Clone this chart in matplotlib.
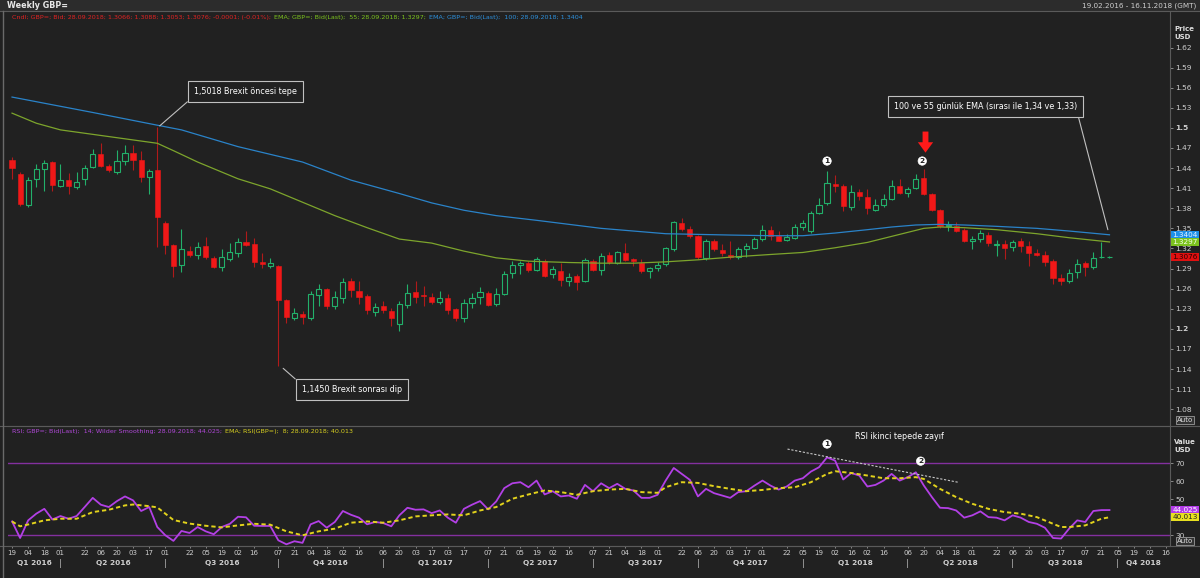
# weekly_gbp_rsi_chart.py
# Weekly GBP= candles with 55/100 EMA and RSI(14) panel

import numpy as np
import pandas as pd
import matplotlib
matplotlib.use("Agg")
import matplotlib.pyplot as plt
from matplotlib.lines import Line2D
from matplotlib.patches import Rectangle
from matplotlib.transforms import blended_transform_factory


# =============================================================================
# Data
# =============================================================================

START_DATE = "2016-02-19"

opens = [
    1.4516, 1.4316, 1.3856, 1.4241, 1.4391, 1.4491, 1.4131, 1.4226, 1.4116, 1.4231,
    1.4416, 1.4616, 1.4426, 1.4341, 1.4506, 1.4631, 1.4516, 1.4266, 1.4366, 1.3576,
    1.3251, 1.2951, 1.3166, 1.3106, 1.3231, 1.3051, 1.2916, 1.3041, 1.3126, 1.3301,
    1.3266, 1.3001, 1.2941, 1.2941, 1.2426, 1.2166, 1.2221, 1.2166, 1.2506, 1.2591,
    1.2341, 1.2466, 1.2716, 1.2566, 1.2491, 1.2256, 1.2341, 1.2266, 1.2066, 1.2356,
    1.2551, 1.2501, 1.2481, 1.2401, 1.2466, 1.2291, 1.2156, 1.2391, 1.2476, 1.2541,
    1.2366, 1.2516, 1.2826, 1.2951, 1.2976, 1.2876, 1.3006, 1.2816, 1.2856, 1.2716,
    1.2791, 1.2716, 1.3006, 1.2881, 1.3106, 1.2981, 1.3131, 1.3036, 1.2981, 1.2866,
    1.2906, 1.2966, 1.3191, 1.3576, 1.3491, 1.3391, 1.3056, 1.3306, 1.3181, 1.3106,
    1.3076, 1.3191, 1.3206, 1.3341, 1.3476, 1.3381, 1.3326, 1.3356, 1.3516, 1.3466,
    1.3726, 1.3876, 1.4156, 1.4126, 1.3816, 1.4041, 1.3966, 1.3781, 1.3856, 1.3941,
    1.4126, 1.4026, 1.4106, 1.4256, 1.4016, 1.3781, 1.3531, 1.3531, 1.3476, 1.3316,
    1.3341, 1.3406, 1.3246, 1.3266, 1.3216, 1.3316, 1.3241, 1.3131, 1.3106, 1.3006,
    1.2756, 1.2716, 1.2841, 1.2976, 1.2926, 1.3066, 1.3066,
]
highs = [
    1.4566, 1.4341, 1.4266, 1.4466, 1.4516, 1.4506, 1.4466, 1.4331, 1.4341, 1.4451,
    1.4681, 1.4776, 1.4466, 1.4676, 1.4741, 1.4741, 1.4656, 1.4391, 1.5018, 1.3616,
    1.3266, 1.3491, 1.3241, 1.3291, 1.3376, 1.3091, 1.3191, 1.3281, 1.3356, 1.3456,
    1.3356, 1.3126, 1.3051, 1.2960, 1.2440, 1.2316, 1.2266, 1.2566, 1.2666, 1.2616,
    1.2566, 1.2766, 1.2766, 1.2716, 1.2516, 1.2391, 1.2416, 1.2316, 1.2416, 1.2666,
    1.2716, 1.2641, 1.2541, 1.2566, 1.2516, 1.2316, 1.2441, 1.2541, 1.2626, 1.2566,
    1.2616, 1.2856, 1.3016, 1.3016, 1.3016, 1.3076, 1.3041, 1.2941, 1.2976, 1.2826,
    1.2816, 1.3056, 1.3041, 1.3126, 1.3141, 1.3166, 1.3276, 1.3056, 1.3041, 1.2926,
    1.2991, 1.3226, 1.3616, 1.3651, 1.3541, 1.3401, 1.3341, 1.3341, 1.3266, 1.3316,
    1.3216, 1.3276, 1.3376, 1.3556, 1.3541, 1.3466, 1.3416, 1.3566, 1.3626, 1.3766,
    1.3956, 1.4356, 1.4291, 1.4166, 1.4151, 1.4091, 1.4091, 1.3941, 1.4016, 1.4226,
    1.4241, 1.4116, 1.4306, 1.4390, 1.4026, 1.3791, 1.3606, 1.3591, 1.3501, 1.3391,
    1.3476, 1.3441, 1.3326, 1.3326, 1.3326, 1.3356, 1.3306, 1.3191, 1.3166, 1.3041,
    1.2816, 1.2891, 1.3041, 1.3016, 1.3141, 1.3301, 1.3088,
]
lows = [
    1.4241, 1.3841, 1.3826, 1.4116, 1.4056, 1.4056, 1.4116, 1.4016, 1.4091, 1.4141,
    1.4406, 1.4416, 1.4341, 1.4316, 1.4441, 1.4376, 1.4191, 1.4016, 1.3229, 1.3116,
    1.2776, 1.2841, 1.3066, 1.3041, 1.3041, 1.2906, 1.2866, 1.3016, 1.3066, 1.3241,
    1.2916, 1.2906, 1.2906, 1.1450, 1.2091, 1.2126, 1.2076, 1.2126, 1.2341, 1.2291,
    1.2291, 1.2391, 1.2476, 1.2366, 1.2226, 1.2191, 1.2241, 1.2041, 1.1966, 1.2316,
    1.2391, 1.2341, 1.2366, 1.2366, 1.2216, 1.2116, 1.2106, 1.2316, 1.2376, 1.2346,
    1.2341, 1.2506, 1.2766, 1.2816, 1.2841, 1.2856, 1.2776, 1.2766, 1.2641, 1.2641,
    1.2576, 1.2706, 1.2856, 1.2806, 1.2966, 1.2966, 1.3016, 1.2941, 1.2826, 1.2766,
    1.2866, 1.2941, 1.3156, 1.3466, 1.3356, 1.3041, 1.3026, 1.3166, 1.3091, 1.3041,
    1.3041, 1.3066, 1.3191, 1.3316, 1.3326, 1.3306, 1.3306, 1.3341, 1.3476, 1.3426,
    1.3716, 1.3856, 1.4041, 1.3756, 1.3776, 1.3916, 1.3716, 1.3756, 1.3826, 1.3916,
    1.4006, 1.3966, 1.4091, 1.3996, 1.3756, 1.3506, 1.3456, 1.3441, 1.3291, 1.3191,
    1.3291, 1.3241, 1.3091, 1.3041, 1.3166, 1.3141, 1.2941, 1.3091, 1.2941, 1.2666,
    1.2661, 1.2691, 1.2766, 1.2791, 1.2891, 1.3060, 1.3053,
]
closes = [
    1.4406, 1.3866, 1.4226, 1.4391, 1.4481, 1.4141, 1.4226, 1.4126, 1.4191, 1.4406,
    1.4616, 1.4431, 1.4366, 1.4506, 1.4631, 1.4526, 1.4266, 1.4356, 1.3676, 1.3256,
    1.2941, 1.3191, 1.3106, 1.3226, 1.3066, 1.2916, 1.3076, 1.3141, 1.3291, 1.3256,
    1.2991, 1.2966, 1.2981, 1.2426, 1.2176, 1.2241, 1.2181, 1.2526, 1.2591, 1.2341,
    1.2476, 1.2706, 1.2576, 1.2476, 1.2276, 1.2331, 1.2276, 1.2166, 1.2366, 1.2541,
    1.2481, 1.2486, 1.2406, 1.2466, 1.2281, 1.2156, 1.2391, 1.2466, 1.2551, 1.2356,
    1.2516, 1.2816, 1.2956, 1.2976, 1.2881, 1.3041, 1.2791, 1.2891, 1.2726, 1.2776,
    1.2706, 1.3026, 1.2876, 1.3091, 1.2991, 1.3141, 1.3026, 1.3006, 1.2856, 1.2901,
    1.2956, 1.3201, 1.3601, 1.3491, 1.3391, 1.3066, 1.3306, 1.3191, 1.3126, 1.3066,
    1.3191, 1.3241, 1.3341, 1.3476, 1.3391, 1.3316, 1.3366, 1.3526, 1.3576, 1.3726,
    1.3856, 1.4176, 1.4126, 1.3841, 1.4041, 1.3976, 1.3806, 1.3856, 1.3941, 1.4126,
    1.4026, 1.4091, 1.4241, 1.4006, 1.3776, 1.3541, 1.3551, 1.3466, 1.3306, 1.3341,
    1.3426, 1.3276, 1.3266, 1.3206, 1.3291, 1.3241, 1.3126, 1.3106, 1.2991, 1.2766,
    1.2716, 1.2826, 1.2966, 1.2926, 1.3056, 1.3076, 1.3076,
]

# EMA lines, read at sample weeks (week index, value)
ema55_weeks = [0, 3, 6, 12, 18, 20, 23, 28, 32, 36, 40, 44, 48, 52, 56, 60, 64, 69,
               73, 77, 81, 85, 89, 94, 98, 102, 106, 110, 113, 115, 118, 122, 127, 131, 136]
ema55_values = [1.522, 1.507, 1.497, 1.487, 1.477, 1.466, 1.449, 1.424, 1.409, 1.389,
                1.369, 1.351, 1.334, 1.328, 1.316, 1.306, 1.301, 1.299, 1.298, 1.298,
                1.300, 1.303, 1.307, 1.311, 1.314, 1.321, 1.329, 1.341, 1.350, 1.352,
                1.351, 1.348, 1.342, 1.336, 1.3297]

ema100_weeks = [0, 10, 18, 21, 28, 36, 42, 48, 52, 56, 60, 65, 69, 73, 77, 81, 85,
                89, 94, 98, 102, 106, 109, 112, 115, 118, 122, 127, 131, 136]
ema100_values = [1.546, 1.523, 1.504, 1.497, 1.472, 1.449, 1.422, 1.402, 1.388, 1.377,
                 1.369, 1.362, 1.356, 1.350, 1.346, 1.342, 1.341, 1.340, 1.339, 1.339,
                 1.343, 1.348, 1.352, 1.355, 1.356, 1.355, 1.353, 1.350, 1.346, 1.3404]

rsi_values = [
    37.7, 28.5, 38.3, 42.0, 44.7, 38.8, 40.7, 39.2, 40.7, 45.7,
    50.8, 47.0, 45.7, 49.0, 51.6, 49.4, 43.5, 45.7, 34.6, 30.0,
    26.9, 32.4, 31.3, 34.6, 32.2, 30.6, 34.6, 36.4, 40.3, 40.0,
    35.3, 35.2, 35.2, 27.2, 25.0, 26.7, 25.8, 36.1, 37.9, 34.2,
    37.4, 43.5, 41.4, 39.8, 36.1, 37.4, 36.8, 35.0, 41.1, 45.3,
    44.2, 44.4, 42.3, 43.8, 39.8, 37.0, 44.7, 47.0, 49.0, 44.4,
    48.8, 56.2, 58.9, 59.5, 56.7, 60.4, 52.7, 54.5, 51.6, 52.1,
    50.3, 58.0, 54.5, 58.9, 56.2, 58.6, 55.8, 54.9, 50.8, 50.8,
    52.5, 60.4, 67.4, 64.1, 60.8, 51.6, 55.8, 53.4, 52.1, 50.8,
    54.0, 54.5, 57.6, 60.4, 57.6, 55.4, 57.1, 60.4, 61.7, 65.4,
    67.8, 73.3, 71.5, 61.0, 64.6, 63.2, 57.1, 58.0, 60.4, 64.1,
    60.4, 62.3, 65.0, 57.6, 51.2, 45.3, 45.1, 43.8, 39.8, 41.1,
    43.3, 40.1, 39.8, 38.3, 41.1, 39.8, 37.4, 36.4, 34.2, 28.5,
    28.2, 33.7, 38.3, 37.4, 43.5, 44.0, 44.025,
]

rsi_ema_weeks = [0, 1, 2, 4, 6, 8, 10, 12, 14, 15, 17, 18, 20, 22, 24, 26, 28, 30, 32, 34,
                 36, 38, 40, 42, 44, 46, 48, 50, 52, 54, 56, 58, 60, 62, 64, 66, 68, 70, 72, 74,
                 76, 78, 80, 81, 83, 85, 87, 89, 91, 93, 95, 97, 99, 101, 102, 104, 106, 108, 110, 112,
                 113, 115, 117, 119, 121, 123, 125, 127, 129, 130, 131, 133, 135, 136]
rsi_ema_values = [37.7, 35.0, 36.0, 38.3, 39.2, 39.2, 42.9, 44.2, 46.6, 47.1, 46.2, 45.5, 38.5, 36.5,
                  35.3, 34.4, 35.5, 36.4, 35.9, 32.2, 30.0, 32.2, 33.7, 37.0, 37.7, 37.0, 38.3, 40.5,
                  41.1, 41.6, 41.1, 43.8, 45.7, 50.3, 52.7, 54.9, 54.0, 52.5, 54.5, 55.4, 55.8, 54.0,
                  53.6, 56.7, 59.5, 59.1, 57.3, 55.8, 54.5, 55.2, 56.2, 56.7, 59.5, 64.1, 65.6, 64.6,
                  63.2, 61.7, 61.7, 62.3, 61.3, 55.8, 51.2, 47.5, 44.7, 42.9, 42.0, 40.1, 36.4, 34.6,
                  34.6, 35.5, 39.2, 40.013]

# time axis labels (Friday of each labelled week)
tick_dates = [
    "2016-02-19", "2016-03-04", "2016-03-18", "2016-04-01", "2016-04-22", "2016-05-06",
    "2016-05-20", "2016-06-03", "2016-06-17", "2016-07-01", "2016-07-22", "2016-08-05",
    "2016-08-19", "2016-09-02", "2016-09-16", "2016-10-07", "2016-10-21", "2016-11-04",
    "2016-11-18", "2016-12-02", "2016-12-16", "2017-01-06", "2017-01-20", "2017-02-03",
    "2017-02-17", "2017-03-03", "2017-03-17", "2017-04-07", "2017-04-21", "2017-05-05",
    "2017-05-19", "2017-06-02", "2017-06-16", "2017-07-07", "2017-07-21", "2017-08-04",
    "2017-08-18", "2017-09-01", "2017-09-22", "2017-10-06", "2017-10-20", "2017-11-03",
    "2017-11-17", "2017-12-01", "2017-12-22", "2018-01-05", "2018-01-19", "2018-02-02",
    "2018-02-16", "2018-03-02", "2018-03-16", "2018-04-06", "2018-04-20", "2018-05-04",
    "2018-05-18", "2018-06-01", "2018-06-22", "2018-07-06", "2018-07-20", "2018-08-03",
    "2018-08-17", "2018-09-07", "2018-09-21", "2018-10-05", "2018-10-19", "2018-11-02",
    "2018-11-16",
]
quarter_names = ["Q1 2016", "Q2 2016", "Q3 2016", "Q4 2016", "Q1 2017", "Q2 2017",
                 "Q3 2017", "Q4 2017", "Q1 2018", "Q2 2018", "Q3 2018", "Q4 2018"]
quarter_starts = ["2016-04-01", "2016-07-01", "2016-10-07", "2017-01-06", "2017-04-07",
                  "2017-07-07", "2017-10-06", "2018-01-05", "2018-04-06", "2018-07-06",
                  "2018-10-05"]

price_ticks = [1.08, 1.11, 1.14, 1.17, 1.2, 1.23, 1.26, 1.29, 1.32, 1.35, 1.38, 1.41,
               1.44, 1.47, 1.5, 1.53, 1.56, 1.59, 1.62]
rsi_ticks = [30, 40, 50, 60, 70]
rsi_tick_labels = ["30", "", "50", "60", "70"]  # 40 sits under the value tags


# =============================================================================
# Style
# =============================================================================

W, H = 1200, 578
BG = "#212121"
BAR_BG = "#2c2c2c"
FRAME = "#5a5a5a"
TXT = "#cfcfcf"
GREEN = "#22b06a"
RED = "#f01818"
RED_WICK = "#b01a1a"
EMA55_C = "#7da52c"
EMA100_C = "#2a83c9"
RSI_C = "#b340e6"
RSI_LVL = "#83309f"
RSI_EMA_C = "#e2d21c"

plt.rcParams["font.family"] = ["DejaVu Sans"]


def week_index(date_str: str) -> float:
    return (pd.Timestamp(date_str) - pd.Timestamp(START_DATE)).days / 7.0


def fx(px: float) -> float:
    return px / W


def fy(py: float) -> float:
    return 1.0 - py / H


def text_row(fig, x_px, y_px, segments, size):
    # draw coloured text segments one after another
    renderer = fig.canvas.get_renderer()
    x = fx(x_px)
    for txt, color in segments:
        t = fig.text(x, fy(y_px), txt, color=color, fontsize=size, va="center", ha="left")
        bb = t.get_window_extent(renderer=renderer)
        x += bb.width / fig.dpi / fig.get_figwidth() + fx(3)


def value_tag(ax, y, label, fc, tc):
    tr = blended_transform_factory(ax.transAxes, ax.transData)
    ax.text(1.002, y, label, transform=tr, ha="left", va="center", fontsize=5.2,
            color=tc, clip_on=False, zorder=10,
            bbox=dict(boxstyle="square,pad=0.15", fc=fc, ec="none"))


def circled(ax, x, y, label):
    ax.text(x, y, label, ha="center", va="center", fontsize=5.4, weight="bold",
            color="#202020", zorder=8,
            bbox=dict(boxstyle="circle,pad=0.16", fc="white", ec="white", lw=0.5))


# =============================================================================
# Figure
# =============================================================================

fig = plt.figure(figsize=(W / 100, H / 100), dpi=100, facecolor=BG)

# price panel: 1.62 at y=47.5px, 1.08 at y=409.2px
PX_PER_PRICE = (409.2 - 47.5) / 0.54
ax_p = fig.add_axes([fx(8), fy(426), fx(1170) - fx(8), (426 - 12) / H], facecolor=BG)
ax_p.set_ylim(1.62 - (426 - 47.5) / PX_PER_PRICE, 1.62 + (47.5 - 12) / PX_PER_PRICE)

# rsi panel: 70 at y=463.3px, 30 at y=535.3px
PX_PER_RSI = (535.3 - 463.3) / 40
ax_r = fig.add_axes([fx(8), fy(546), fx(1170) - fx(8), (546 - 426) / H], facecolor=BG)
ax_r.set_ylim(30 - (546 - 535.3) / PX_PER_RSI, 70 + (463.3 - 426) / PX_PER_RSI)

n_slots = week_index("2018-11-16") + 1
for ax in (ax_p, ax_r):
    ax.set_xlim(-0.5, n_slots - 0.5)
    for side in ("left", "top", "bottom"):
        ax.spines[side].set_visible(False)
    ax.spines["right"].set_color(FRAME)
    ax.spines["right"].set_linewidth(0.8)
    ax.yaxis.tick_right()
    ax.tick_params(axis="y", direction="out", length=2.5, width=0.6, colors="#9a9a9a",
                   labelcolor=TXT, labelsize=5.4, pad=1.5)
ax_r.spines["top"].set_visible(True)
ax_r.spines["top"].set_color(FRAME)
ax_r.spines["bottom"].set_visible(True)
ax_r.spines["bottom"].set_color(FRAME)
ax_p.tick_params(axis="x", bottom=False, labelbottom=False)

# ---- candles ---------------------------------------------------------------
o = np.array(opens)
h = np.array(highs)
l = np.array(lows)
c = np.array(closes)
x = np.arange(len(o))
up = c >= o

ax_p.vlines(x[up], l[up], h[up], color=GREEN, lw=0.8, zorder=2)
ax_p.vlines(x[~up], l[~up], h[~up], color=RED_WICK, lw=0.8, zorder=2)
body_lo = np.minimum(o, c)
body_h = np.maximum(np.abs(c - o), 0.0008)
ax_p.bar(x[up], body_h[up], bottom=body_lo[up], width=0.64, facecolor=BG,
         edgecolor=GREEN, lw=0.8, zorder=3)
ax_p.bar(x[~up], body_h[~up], bottom=body_lo[~up], width=0.64, facecolor=RED,
         edgecolor=RED, lw=0.4, zorder=3)

ax_p.plot(ema100_weeks, ema100_values, color=EMA100_C, lw=0.9, zorder=4)
ax_p.plot(ema55_weeks, ema55_values, color=EMA55_C, lw=0.9, zorder=4)

ax_p.set_yticks(price_ticks)
ax_p.set_yticklabels([f"{v:.2f}".rstrip("0") for v in price_ticks])
for lab, v in zip(ax_p.get_yticklabels(), price_ticks):
    if v in (1.2, 1.5):
        lab.set_fontweight("bold")

value_tag(ax_p, ema100_values[-1], f"{ema100_values[-1]:.4f}", "#1e8fe8", "#e8f4ff")
value_tag(ax_p, ema55_values[-1], f"{ema55_values[-1]:.4f}", "#7cc21e", "#f4ffe8")
value_tag(ax_p, closes[-1], f"{closes[-1]:.4f}", "#e01010", "#2a0000")

# ---- price annotations -----------------------------------------------------
box = dict(boxstyle="square,pad=0.75", fc=BG, ec="#c0c0c0", lw=0.8)
line = dict(arrowstyle="-", color="#c0c0c0", lw=0.8, shrinkA=0, shrinkB=0)
ax_p.annotate("1,5018 Brexit öncesi tepe", xy=(18.3, 1.503), xytext=(28.9, 1.554),
              ha="center", va="center", fontsize=5.8, color="white", bbox=box,
              arrowprops=dict(line, relpos=(0, 0)), zorder=7)
ax_p.annotate("1,1450 Brexit sonrası dip", xy=(33.6, 1.141), xytext=(42.1, 1.110),
              ha="center", va="center", fontsize=5.8, color="white", bbox=box,
              arrowprops=dict(line, relpos=(0, 1)), zorder=7)
ax_p.annotate("100 ve 55 günlük EMA (sırası ile 1,34 ve 1,33)", xy=(135.8, 1.348),
              xytext=(120.6, 1.532), ha="center", va="center", fontsize=5.8, color="white",
              bbox=box, arrowprops=dict(line, relpos=(1, 0)), zorder=7)

circled(ax_p, 101.0, 1.4505, "1")
circled(ax_p, 112.8, 1.4505, "2")
ax_p.annotate("", xy=(113.2, 1.4630), xytext=(113.2, 1.4945),
              arrowprops=dict(width=4.2, headwidth=11, headlength=7.5, shrink=0,
                              fc="#ff1a1a", ec="none"), zorder=8)

# ---- rsi panel -------------------------------------------------------------
ax_r.axhline(70, color=RSI_LVL, lw=1.0, zorder=1)
ax_r.axhline(30, color=RSI_LVL, lw=1.0, zorder=1)
ax_r.plot(np.arange(len(rsi_values)), rsi_values, color=RSI_C, lw=1.3, zorder=3)
ax_r.plot(rsi_ema_weeks, rsi_ema_values, color=RSI_EMA_C, lw=1.4, dashes=(2.2, 1.5), zorder=4)
ax_r.plot([96.1, 117.2], [77.9, 59.5], color="#c8c8c8", lw=0.8, dashes=(2, 1.5), zorder=5)
circled(ax_r, 101.0, 80.7, "1")
circled(ax_r, 112.6, 71.2, "2")
ax_r.text(110.0, 84.9, "RSI ikinci tepede zayıf", ha="center", va="center",
          fontsize=5.8, color="white", zorder=6)

ax_r.set_yticks(rsi_ticks)
ax_r.set_yticklabels(rsi_tick_labels)
value_tag(ax_r, rsi_values[-1], f"{rsi_values[-1]:.3f}", "#b23be8", "#ffffff")
value_tag(ax_r, rsi_ema_values[-1], f"{rsi_ema_values[-1]:.3f}", "#e8e020", "#202020")

# ---- time axis -------------------------------------------------------------
tick_pos = [week_index(d) for d in tick_dates]
ax_r.set_xticks(tick_pos)
ax_r.set_xticklabels([d[-2:] for d in tick_dates])
ax_r.tick_params(axis="x", direction="out", length=1.5, width=0.6, colors="#9a9a9a",
                 labelcolor=TXT, labelsize=5.0, pad=1.2)

sep = [week_index(d) for d in quarter_starts]
bounds = [-0.5] + sep + [n_slots - 0.5]
xtr = ax_r.get_xaxis_transform()
for name, a, b in zip(quarter_names, bounds[:-1], bounds[1:]):
    ax_r.text((a + b) / 2, -0.145, name, transform=xtr, ha="center", va="center",
              fontsize=5.3, weight="bold", color=TXT, clip_on=False)
for s in sep:
    ax_r.text(s, -0.145, "|", transform=xtr, ha="center", va="center",
              fontsize=5.5, color=TXT, clip_on=False)

# ---- frame, header and legends --------------------------------------------
fig.patches.append(Rectangle((0, fy(11)), 1, 11 / H, transform=fig.transFigure,
                             fc=BAR_BG, ec="none", zorder=0))
for yy in (11, 426, 546):
    fig.add_artist(Line2D([0, 1], [fy(yy), fy(yy)], color=FRAME, lw=0.8))
fig.add_artist(Line2D([fx(2.5), fx(2.5)], [fy(11), fy(578)], color="#6a6a6a", lw=1.0))

fig.text(fx(7), fy(5.5), "Weekly GBP=", fontsize=5.8, weight="bold", color="#e8e8e8",
         va="center", ha="left")
fig.text(fx(1196), fy(5.5), "19.02.2016 - 16.11.2018 (GMT)", fontsize=5.2, color=TXT,
         va="center", ha="right")

text_row(fig, 12, 17, [
    ("Cndl; GBP=; Bid; 28.09.2018; 1.3066; 1.3088; 1.3053; 1.3076; -0.0001; (-0.01%);", "#e02222"),
    ("EMA; GBP=; Bid(Last);  55; 28.09.2018; 1.3297;", "#7cc21e"),
    ("EMA; GBP=; Bid(Last);  100; 28.09.2018; 1.3404", "#2d90dc"),
], 4.6)
text_row(fig, 12, 432, [
    ("RSI; GBP=; Bid(Last);  14; Wilder Smoothing; 28.09.2018; 44.025;", "#b048d8"),
    ("EMA; RSI(GBP=);  8; 28.09.2018; 40.013", "#d8cf20"),
], 4.6)

fig.text(fx(1174), fy(33), "Price\nUSD", fontsize=5.0, weight="bold", color="#dddddd",
         va="center", ha="left", linespacing=1.4)
fig.text(fx(1174), fy(446), "Value\nUSD", fontsize=5.0, weight="bold", color="#dddddd",
         va="center", ha="left", linespacing=1.4)
for yy in (420, 541):
    fig.text(fx(1185), fy(yy), "Auto", fontsize=5.0, color="#dddddd", ha="center",
             va="center", bbox=dict(boxstyle="square,pad=0.15", fc="#333333", ec="#9a9a9a",
                                    lw=0.6))

fig.savefig("out.png", dpi=100, facecolor=BG)
